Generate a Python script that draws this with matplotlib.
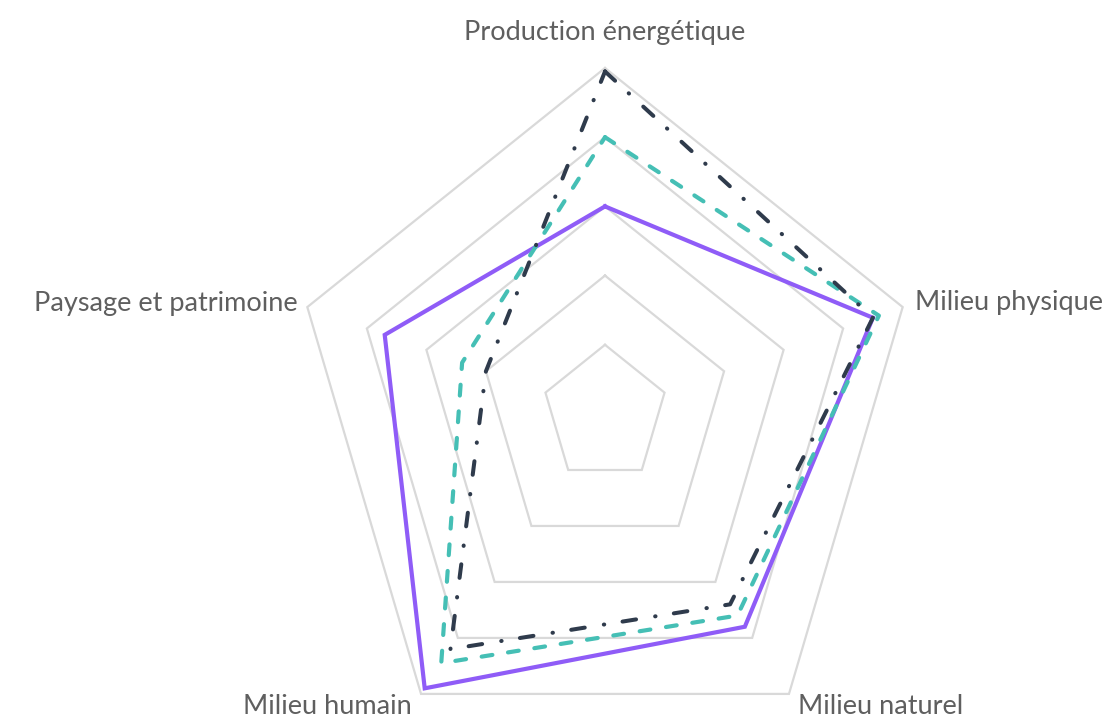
import numpy as np
import matplotlib
matplotlib.use("Agg")
import matplotlib.pyplot as plt

categories = ["Production énergétique", "Milieu physique", "Milieu naturel",
              "Milieu humain", "Paysage et patrimoine"]
series_purple = [3.0, 4.5, 3.8, 4.9, 3.7]
series_teal = [4.0, 4.6, 3.6, 4.45, 2.4]
series_dark = [4.95, 4.5, 3.4, 4.2, 2.0]
grid_levels = [1, 2, 3, 4, 5]

W, H = 1110, 718
fig = plt.figure(figsize=(W / 100, H / 100), dpi=100)
ax = fig.add_axes([0, 0, 1, 1])
# pixel geometry: centre at (605, 414) px, 62.6 px per unit horizontally, 69.2 vertically
sx, sy = 62.6, 69.2
cxp, cyp = 605, 414
ax.set_xlim(-cxp / sx, (W - cxp) / sx)
ax.set_ylim(-(H - cyp) / sy, cyp / sy)
ax.axis("off")

n = len(categories)
theta = np.arange(n) * 2 * np.pi / n


def xy(vals):
    v = np.asarray(vals, dtype=float)
    x = v * np.sin(theta)
    y = v * np.cos(theta)
    return np.append(x, x[0]), np.append(y, y[0])


for lv in grid_levels:
    gx, gy = xy([lv] * n)
    ax.plot(gx, gy, color="#D9D9D9", lw=1.6, solid_joinstyle="miter", zorder=1)

px, py = xy(series_purple)
ax.plot(px, py, color="#8F5CF7", lw=3.0, solid_joinstyle="miter", zorder=3)

tx, ty = xy(series_teal)
ax.plot(tx, ty, color="#45BFB5", lw=3.0, linestyle=(0, (2.6, 3.8)),
        dash_capstyle="round", zorder=4)

dx, dy = xy(series_dark)
ax.plot(dx, dy, color="#2F3B4C", lw=2.9, linestyle=(0, (3.4, 4.6, 0.1, 4.8)),
        dash_capstyle="round", zorder=5)

label_r = [5.52, 5.2, 5.25, 5.25, 5.17]
has = ["center", "left", "left", "right", "right"]
for i, lab in enumerate(categories):
    lx = label_r[i] * np.sin(theta[i])
    ly = label_r[i] * np.cos(theta[i])
    if i in (2, 3):
        ly = -(706 - cyp) / sy
    ax.text(lx, ly, lab, ha=has[i], va="center", fontsize=19.5,
            family=["Lato", "DejaVu Sans"], color="#5F5F5F")

fig.savefig("out.png", dpi=100)
